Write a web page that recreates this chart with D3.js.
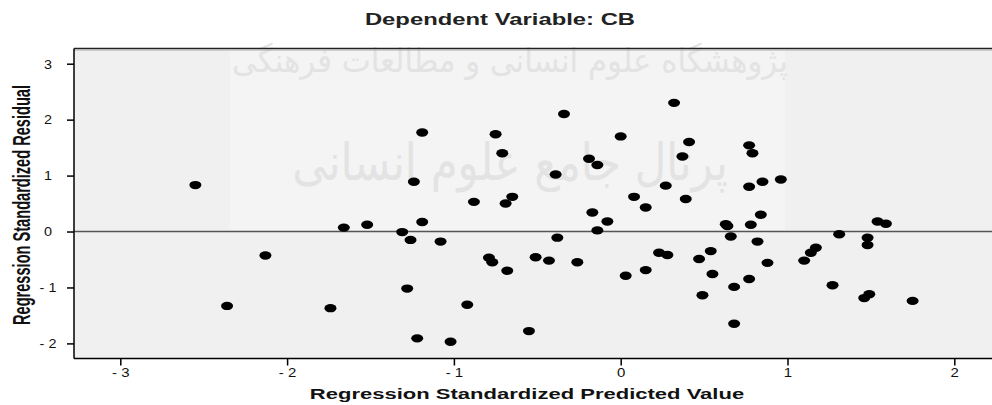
<!DOCTYPE html>
<html>
<head>
<meta charset="utf-8">
<script src="https://cdn.jsdelivr.net/npm/d3@7"></script>
<style>
body { margin: 0; background: #fff; }
svg { display: block; font-family: "Liberation Sans", Arial, sans-serif; }
</style>
</head>
<body>
<svg></svg>
<script>
let width = 992;
let height = 405;

// standardized predicted value (x) and standardized residual (y), one pair per case
let predicted = [-2.55, -1.66, -1.52, -2.13, -2.36, -1.74, 0.32, -0.34, -1.19, -0.75,
                 0.00, -0.71, -0.19, -0.14, 0.37, -1.24, -0.39, 0.27, -0.88, -0.69,
                 -0.65, 0.08, 0.15, -0.17, -0.08, -1.19, -0.14, -1.31, -1.26, -1.08,
                 -0.38, -0.79, -0.77, -0.68, -0.51, -0.43, -0.26, 0.23, 0.28, 0.03,
                 0.15, -1.28, -0.92, -1.22, -1.02, -0.55, 0.41, 0.77, 0.79, 0.39,
                 0.77, 0.85, 0.96, 0.84, 0.63, 0.64, 0.78, 1.54, 1.59, 0.66,
                 0.82, 1.31, 1.48, 1.48, 1.17, 1.14, 0.54, 0.47, 0.88, 1.10,
                 0.55, 0.77, 0.68, 0.49, 1.27, 1.49, 1.46, 1.75, 0.68];
let residual = [0.83, 0.07, 0.12, -0.43, -1.33, -1.37, 2.30, 2.10, 1.77, 1.74,
                1.70, 1.40, 1.30, 1.19, 1.34, 0.89, 1.02, 0.82, 0.53, 0.50,
                0.62, 0.62, 0.43, 0.34, 0.18, 0.17, 0.02, -0.01, -0.15, -0.18,
                -0.11, -0.47, -0.55, -0.70, -0.46, -0.52, -0.55, -0.38, -0.42, -0.79,
                -0.69, -1.02, -1.31, -1.91, -1.97, -1.78, 1.60, 1.54, 1.40, 0.58,
                0.80, 0.89, 0.93, 0.30, 0.13, 0.10, 0.12, 0.18, 0.14, -0.09,
                -0.18, -0.05, -0.11, -0.24, -0.29, -0.38, -0.35, -0.49, -0.56, -0.52,
                -0.76, -0.85, -0.99, -1.14, -0.96, -1.12, -1.19, -1.24, -1.65];

let xTicks = [-3, -2, -1, 0, 1, 2];
let yTicks = [-2, -1, 0, 1, 2, 3];
let title = "Dependent Variable: CB";
let xTitle = "Regression Standardized Predicted Value";
let yTitle = "Regression Standardized Residual";
let watermark = ["پژوهشگاه علوم انسانی و مطالعات فرهنگی", "پرتال جامع علوم انسانی"];

let svg = d3.select("svg")
            .attr("width", width)
            .attr("height", height);

let plotLeft = 74, plotTop = 48.5, plotBottom = 358.5, plotRight = width;

let xScale = d3.scaleLinear()
               .domain([-3, 2])
               .range([120.3, 954.3]);

let yScale = d3.scaleLinear()
               .domain([-2, 3])
               .range([343.4, 63.7]);

let fmt = (d) => d < 0 ? "- " + Math.abs(d) : "" + d;

// plot background
svg.append("rect")
   .attr("x", plotLeft).attr("y", plotTop)
   .attr("width", plotRight - plotLeft).attr("height", plotBottom - plotTop)
   .attr("fill", "#f0f0f0");

// lighter watermark patch
svg.append("rect")
   .attr("x", 230).attr("y", plotTop)
   .attr("width", 555).attr("height", 230 - plotTop)
   .attr("fill", "#ffffff")
   .attr("opacity", 0.3);

let wm = svg.append("g")
            .attr("fill", "#e3e3e3")
            .attr("font-family", "DejaVu Sans, sans-serif")
            .attr("text-anchor", "middle");
wm.append("text")
  .attr("transform", "translate(510,72) scale(1.4,1.5)")
  .attr("font-size", 22)
  .attr("direction", "rtl")
  .text(watermark[0]);
wm.append("text")
  .attr("transform", "translate(510,180) scale(1.28,1.5)")
  .attr("font-size", 34)
  .attr("direction", "rtl")
  .text(watermark[1]);

// zero reference line
svg.append("line")
   .attr("x1", plotLeft).attr("x2", plotRight)
   .attr("y1", yScale(0)).attr("y2", yScale(0))
   .attr("stroke", "#555")
   .attr("stroke-width", 1.5);

// points
svg.selectAll("ellipse")
  .data(predicted)
  .enter()
  .append("ellipse")
  .attr("cx", (d) => xScale(d))
  .attr("cy", (d, i) => yScale(residual[i]))
  .attr("rx", 6)
  .attr("ry", 4.2)
  .attr("fill", "#000");

// frame
svg.append("line")
   .attr("x1", plotLeft).attr("x2", plotRight)
   .attr("y1", plotTop).attr("y2", plotTop)
   .attr("stroke", "#222").attr("stroke-width", 1.5);
svg.append("line")
   .attr("x1", plotLeft).attr("x2", plotRight)
   .attr("y1", plotTop + 1.5).attr("y2", plotTop + 1.5)
   .attr("stroke", "#aaa").attr("stroke-width", 1);
svg.append("line")
   .attr("x1", plotLeft).attr("x2", plotRight)
   .attr("y1", plotBottom).attr("y2", plotBottom)
   .attr("stroke", "#000").attr("stroke-width", 1.5);
svg.append("line")
   .attr("x1", plotLeft).attr("x2", plotLeft)
   .attr("y1", plotTop).attr("y2", plotBottom)
   .attr("stroke", "#000").attr("stroke-width", 1.5);

// axes
let xAxis = svg.append("g")
   .attr("transform", "translate(0," + plotBottom + ")")
   .call(d3.axisBottom(xScale).tickValues(xTicks).tickSize(7).tickFormat(fmt));
xAxis.select(".domain").remove();
xAxis.selectAll("line").attr("stroke", "#000").attr("stroke-width", 1.5);
xAxis.selectAll("text")
     .attr("font-size", 12.5)
     .attr("font-family", "Liberation Sans, Arial, sans-serif")
     .attr("fill", "#111")
     .attr("y", 18.5).attr("dy", null)
     .attr("transform", "scale(1.2,1)");

let yAxis = svg.append("g")
   .attr("transform", "translate(" + plotLeft + ",0)")
   .call(d3.axisLeft(yScale).tickValues(yTicks).tickSize(7).tickFormat(fmt));
yAxis.select(".domain").remove();
yAxis.selectAll("line").attr("stroke", "#000").attr("stroke-width", 1.5);
yAxis.selectAll("text")
     .attr("font-size", 12)
     .attr("font-family", "Liberation Sans, Arial, sans-serif")
     .attr("fill", "#111")
     .attr("text-anchor", "middle")
     .attr("x", -26 / 1.2).attr("dy", "0.36em")
     .attr("transform", "scale(1.2,1)");

// titles
svg.append("text")
   .attr("transform", "translate(500,25) scale(1.49,1)")
   .attr("text-anchor", "middle")
   .attr("font-weight", "bold")
   .attr("font-size", 16)
   .attr("fill", "#222")
   .text(title);

svg.append("text")
   .attr("transform", "translate(527,399) scale(1.44,1)")
   .attr("text-anchor", "middle")
   .attr("font-weight", "bold")
   .attr("font-size", 15.3)
   .attr("fill", "#111")
   .text(xTitle);

svg.append("text")
   .attr("transform", "translate(30,205) scale(1.6,1) rotate(-90)")
   .attr("text-anchor", "middle")
   .attr("font-weight", "bold")
   .attr("font-size", 14.6)
   .attr("fill", "#111")
   .text(yTitle);
</script>
</body>
</html>
